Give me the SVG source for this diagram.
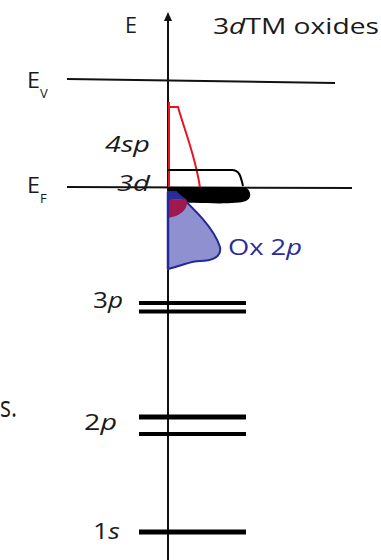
<svg xmlns="http://www.w3.org/2000/svg" width="381" height="560" viewBox="0 0 381 560">
<style>
.t{font-family:"Open Sans","Liberation Sans",sans-serif;fill:#1a1a1a}
.i{font-style:italic}
.ln{stroke:#111;fill:none}
.lvl{stroke:#000;stroke-linecap:butt}
</style>
<defs>
<marker id="ah" markerWidth="10" markerHeight="8" refX="1" refY="4" orient="auto" markerUnits="userSpaceOnUse">
<path d="M0,0 L9,4 L0,8 Z" fill="#111"/>
</marker>
</defs>
<rect width="381" height="560" fill="#fff"/>
<g id="connectors">
<line class="ln" x1="168" y1="560" x2="168" y2="20" stroke-width="2" marker-end="url(#ah)"/>
<line class="ln" x1="67" y1="79" x2="335" y2="83" stroke-width="2"/>
<line class="ln" x1="67" y1="187" x2="352" y2="188" stroke-width="2"/>
</g>
<g id="axis-label">
<text class="t" x="125" y="33" font-size="22" textLength="12" lengthAdjust="spacingAndGlyphs">E</text>
</g>
<g id="title">
<text class="t" x="213" y="34" font-size="22" textLength="166" lengthAdjust="spacingAndGlyphs">3<tspan class="i">d</tspan>TM oxides</text>
</g>
<g id="Ev">
<text class="t" x="27" y="88" font-size="22" textLength="13" lengthAdjust="spacingAndGlyphs">E</text>
<text class="t" x="40" y="98" font-size="13">V</text>
</g>
<g id="EF">
<text class="t" x="27" y="193" font-size="22" textLength="13" lengthAdjust="spacingAndGlyphs">E</text>
<text class="t" x="40" y="203" font-size="13">F</text>
</g>
<g id="band-4sp">
<path d="M169,188 L169,102 M169,107 L178,107 C186,135 196,158 200,188" fill="none" stroke="#e8141c" stroke-width="2"/>
<text class="t i" x="105" y="152" font-size="22" textLength="45" lengthAdjust="spacingAndGlyphs">4sp</text>
</g>
<g id="band-3d">
<path d="M168,170 L232,170 C240,170 241,178 243,186" fill="none" stroke="#000" stroke-width="2"/>
<path d="M168,187 L243,187 C251,188 253,198 246,201 C236,205 200,203 168,202 Z" fill="#000"/>
<text class="t i" x="117" y="191" font-size="22" textLength="33" lengthAdjust="spacingAndGlyphs">3d</text>
</g>
<g id="band-ox2p">
<path d="M168,192 L176,192 C195,210 214,228 220,247 C222,258 210,261 200,261 C190,261 185,265 168,269 Z" fill="#8e90d0" stroke="#25289a" stroke-width="2"/>
<path d="M168,200 L186,199 C189,205 185,212 176,216 L168,218 Z" fill="#9e1a4e"/>
<path d="M168,193 L177,193 L186,199 L168,200 Z" fill="#2a2d9c"/>
<line x1="168" y1="192" x2="168" y2="269" stroke="#25289a" stroke-width="2.5"/>
<text class="t" x="228" y="255" font-size="22" style="fill:#2a2c9c" textLength="74" lengthAdjust="spacingAndGlyphs">Ox 2<tspan class="i">p</tspan></text>
</g>
<g id="level-3p">
<line class="lvl" x1="139" y1="303" x2="246" y2="303" stroke-width="4"/>
<line class="lvl" x1="139" y1="311.5" x2="246" y2="311.5" stroke-width="4"/>
<text class="t" x="93" y="308" font-size="22" textLength="30" lengthAdjust="spacingAndGlyphs">3<tspan class="i">p</tspan></text>
</g>
<g id="level-2p">
<line class="lvl" x1="139" y1="417" x2="246" y2="417" stroke-width="5"/>
<line class="lvl" x1="139" y1="434" x2="246" y2="434" stroke-width="4"/>
<text class="t" x="84" y="430" font-size="22" textLength="33" lengthAdjust="spacingAndGlyphs">2<tspan class="i">p</tspan></text>
</g>
<g id="level-1s">
<line class="lvl" x1="139" y1="532" x2="246" y2="532" stroke-width="5"/>
<text class="t" x="93" y="539" font-size="22" textLength="27" lengthAdjust="spacingAndGlyphs">1<tspan class="i">s</tspan></text>
</g>
<g id="fragment">
<text class="t" x="0" y="417" font-size="29" textLength="17" lengthAdjust="spacingAndGlyphs">s.</text>
</g>
</svg>
